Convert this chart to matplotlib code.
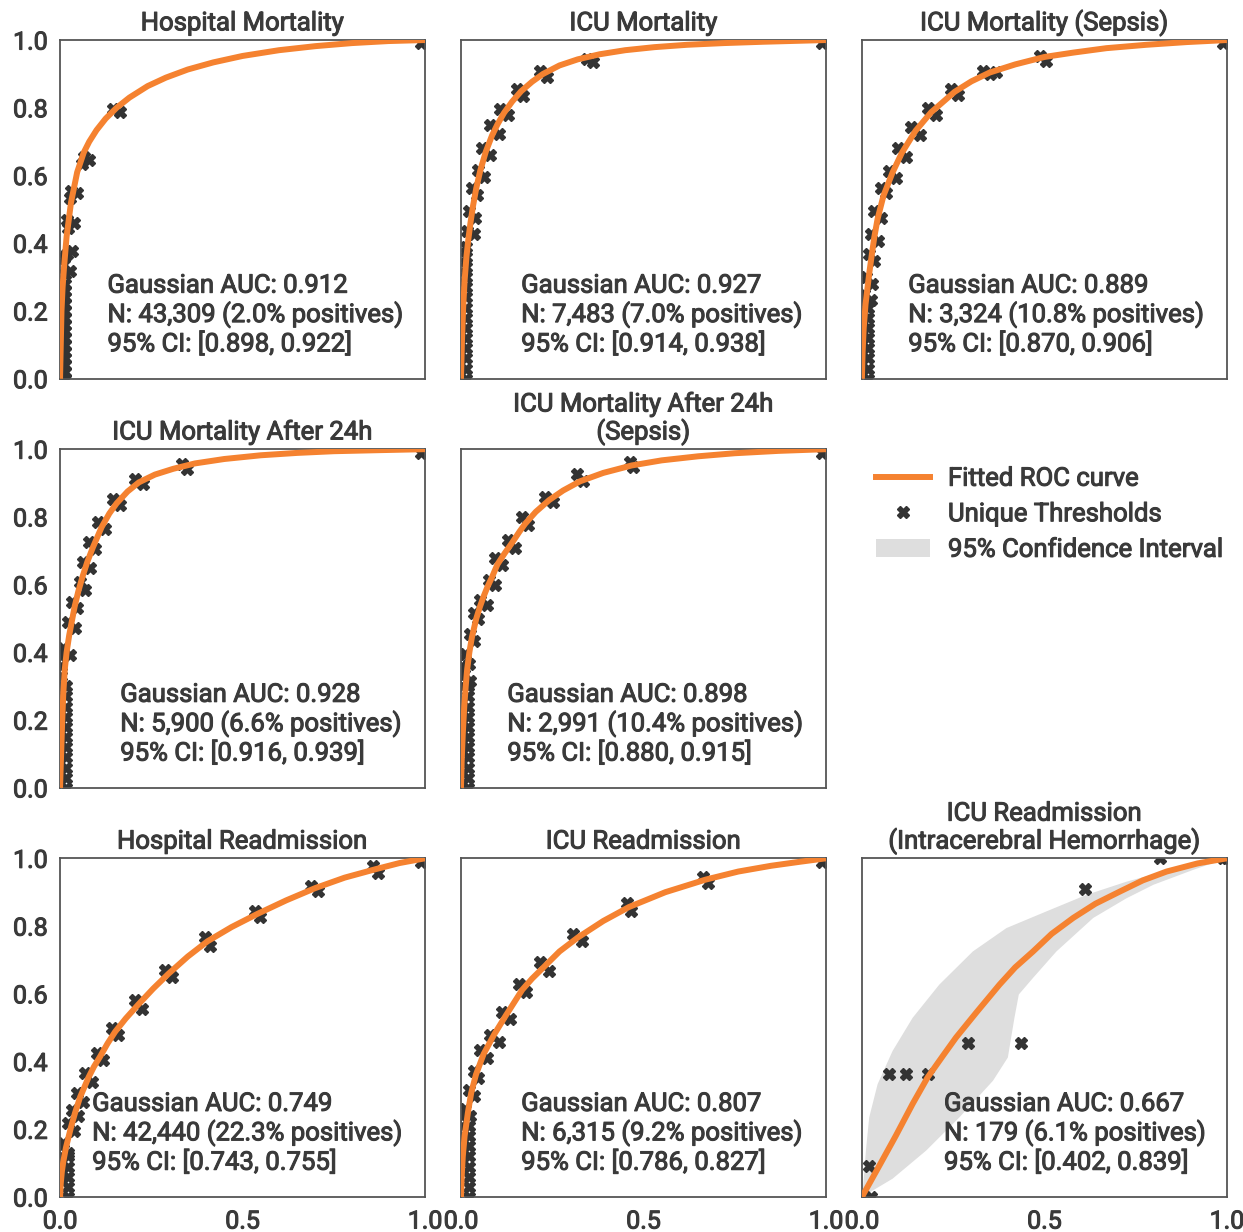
import matplotlib
matplotlib.use('Agg')
import matplotlib.pyplot as plt
import matplotlib.patheffects as pe
import numpy as np
from matplotlib.lines import Line2D
from matplotlib.patches import Patch

plt.rcParams['font.family'] = ['Roboto', 'DejaVu Sans']
plt.rcParams['text.color'] = '#3a3a3a'
plt.rcParams['xtick.color'] = '#3a3a3a'
plt.rcParams['ytick.color'] = '#3a3a3a'

orange = '#f58230'
dark = '#333333'
band_col = '#dedede'
fs = 18.5
# only Roboto Regular is installed; a thin stroke gives it the medium weight of the original
heavy = [pe.withStroke(linewidth=0.75, foreground='#3a3a3a')]

titles = ['Hospital Mortality', 'ICU Mortality', 'ICU Mortality (Sepsis)',
          'ICU Mortality After 24h', 'ICU Mortality After 24h\n(Sepsis)', None,
          'Hospital Readmission', 'ICU Readmission',
          'ICU Readmission\n(Intracerebral Hemorrhage)']
auc = [0.912, 0.927, 0.889, 0.928, 0.898, None, 0.749, 0.807, 0.667]
n_total = ['43,309', '7,483', '3,324', '5,900', '2,991', None, '42,440', '6,315', '179']
pct_pos = [2.0, 7.0, 10.8, 6.6, 10.4, None, 22.3, 9.2, 6.1]
ci_lo = [0.898, 0.914, 0.870, 0.916, 0.880, None, 0.743, 0.786, 0.402]
ci_hi = [0.922, 0.938, 0.906, 0.939, 0.915, None, 0.755, 0.827, 0.839]

# fitted curves
hm_fit_fpr = [0, .002, .004, .007, .011, .018, .03, .047, .065, .08, .1, .125, .155, .19, .24, .29, .35, .42, .5, .6, .7, .8, .9, 1]
hm_fit_tpr = [0, .1, .2, .27, .33, .42, .52, .61, .668, .7, .734, .768, .8, .83, .864, .889, .913, .934, .953, .97, .982, .991, .997, 1]
im_fit_fpr = [0, .003, .006, .01, .015, .02, .026, .033, .042, .053, .068, .085, .1, .118, .14, .165, .195, .225, .27, .32, .38, .45, .53, .62, .72, .83, 1]
im_fit_tpr = [0, .12, .21, .29, .36, .41, .46, .51, .563, .615, .67, .718, .751, .785, .818, .849, .877, .9, .925, .943, .958, .97, .979, .986, .991, .995, 1]
is_fit_fpr = [0, .002, .005, .01, .015, .02, .027, .034, .043, .059, .084, .11, .147, .19, .254, .3, .35, .42, .5, .58, .67, .78, .89, 1]
is_fit_tpr = [0, .08, .15, .22, .265, .31, .365, .418, .472, .54, .609, .668, .732, .787, .847, .878, .904, .928, .95, .963, .976, .986, .994, 1]
i24_fit_fpr = [0, .003, .006, .009, .013, .018, .025, .032, .04, .05, .062, .075, .09, .114, .135, .155, .185, .216, .26, .31, .37, .45, .55, .65, .75, .87, 1]
i24_fit_tpr = [0, .1, .2, .28, .35, .4, .45, .49, .535, .58, .625, .668, .71, .77, .81, .84, .875, .902, .925, .942, .958, .971, .982, .989, .994, .997, 1]
i24s_fit_fpr = [0, .002, .005, .009, .013, .017, .023, .03, .042, .052, .062, .074, .085, .1, .12, .139, .16, .176, .205, .242, .28, .326, .39, .468, .55, .65, .75, .87, 1]
i24s_fit_tpr = [0, .08, .16, .24, .3, .35, .4, .445, .5, .535, .565, .597, .622, .66, .693, .722, .756, .78, .815, .85, .878, .905, .93, .952, .967, .979, .988, .995, 1]
hr_fit_fpr = [0, .002, .005, .009, .016, .03, .041, .055, .078, .093, .11, .13, .151, .18, .215, .255, .297, .35, .404, .47, .541, .62, .699, .78, .865, .93, 1]
hr_fit_tpr = [0, .04, .075, .105, .145, .206, .248, .295, .353, .385, .415, .453, .488, .527, .569, .615, .659, .71, .755, .797, .836, .876, .912, .943, .968, .986, 1]
ir_fit_fpr = [0, .002, .005, .01, .019, .028, .041, .062, .091, .123, .168, .195, .228, .27, .32, .39, .46, .56, .67, .76, .85, .93, 1]
ir_fit_tpr = [0, .06, .12, .18, .249, .307, .361, .422, .48, .536, .612, .645, .68, .725, .766, .815, .856, .9, .937, .961, .978, .99, 1]
ich_fit_fpr = [0, .048, .093, .139, .18, .222, .258, .313, .377, .42, .469, .52, .579, .64, .707, .77, .835, .92, 1]
ich_fit_tpr = [0, .093, .181, .275, .353, .417, .471, .544, .627, .678, .725, .777, .824, .866, .902, .935, .961, .985, 1]

# confidence band (only wide enough to see in the last panel)
ich_ci_up_fpr = [0, .004, .011, .02, .043, .084, .139, .212, .304, .396, .505, .615, .725, .844, .954, 1]
ich_ci_up_tpr = [0, .039, .137, .235, .333, .431, .529, .627, .725, .794, .843, .892, .931, .966, .99, 1]
ich_ci_lo_fpr = [0, .084, .176, .267, .359, .4, .409, .418, .43, .469, .533, .634, .725, .799, .908, 1]
ich_ci_lo_tpr = [0, .054, .137, .235, .343, .412, .471, .529, .598, .647, .725, .824, .882, .922, .966, 1]

# unique thresholds
hm_thr_fpr = [.013, .013, .013, .013, .013, .013, .013, .013, .013, .013, .013, .013, .013, .013, .013,
              .014, .027, .012, .018, .032, .023, .037, .02, .027, .046, .03, .059, .078, .065, .146, .164, .99, 1]
hm_thr_tpr = [0, .02, .04, .06, .08, .10, .12, .14, .16, .18, .20, .22, .24, .26, .28,
              .308, .318, .355, .367, .376, .445, .459, .47, .533, .547, .555, .635, .645, .655, .797, .787, .99, 1]
im_thr_fpr = [.014, .014, .014, .014, .014, .014, .014, .014, .014, .014, .014, .014, .014, .014,
              .016, .035, .021, .039, .030, .044, .048, .062, .057, .080, .080, .103, .107, .130,
              .153, .171, .217, .235, .344, .362, .99, 1]
im_thr_tpr = [0, .03, .06, .09, .12, .15, .18, .21, .24, .27, .30, .33, .36, .39,
              .436, .426, .495, .475, .563, .543, .617, .597, .680, .660, .748, .724, .797, .778,
              .856, .836, .909, .890, .943, .934, .99, 1]
is_thr_fpr = [.016, .016, .016, .016, .016, .016, .016, .016, 0, 0, 0, 0,
              .006, .025, .011, .029, .020, .034, .025, .043, .034, .052, .052, .066, .075, .093,
              .098, .121, .135, .158, .180, .203, .245, .263, .331, .350, .368, .487, .505, .99, 1]
is_thr_tpr = [0, .03, .06, .09, .12, .15, .18, .21, .14, .17, .20, .23,
              .251, .231, .300, .280, .368, .349, .427, .407, .495, .476, .563, .549, .612, .593,
              .681, .656, .744, .720, .798, .778, .856, .837, .910, .900, .905, .954, .939, .99, 1]
i24_thr_fpr = [.016, .016, .016, .016, .016, .016, .016, .016, .016, .016, .016, .004, .004, .004, .004,
               .009, .027, .023, .041, .032, .046, .055, .068, .064, .082, .078, .096,
               .105, .123, .146, .164, .205, .228, .333, .347, .99, 1]
i24_thr_tpr = [0, .03, .06, .09, .12, .15, .18, .21, .24, .27, .30, .30, .33, .36, .39,
               .413, .393, .491, .472, .550, .530, .609, .584, .667, .648, .726, .706,
               .785, .765, .853, .834, .912, .897, .956, .941, .99, 1]
i24s_thr_fpr = [.02, .02, .02, .02, .02, .02, .02, .02, .02, .02, .02, .003, .003, .003,
                .007, .026, .012, .021, .026, .035, .035, .048, .053, .071, .076, .094,
                .094, .112, .130, .148, .167, .185, .230, .253, .317, .335, .463, .472, .99, 1]
i24s_thr_tpr = [0, .03, .06, .09, .12, .15, .18, .21, .24, .27, .30, .30, .33, .36,
                .337, .317, .395, .366, .454, .434, .517, .498, .556, .541, .615, .600,
                .678, .659, .732, .707, .800, .776, .859, .844, .927, .907, .961, .946, .99, 1]
hr_thr_fpr = [.021, .021, .021, .021, .021, .004, .004, .004, .004,
              .009, .023, .023, .037, .032, .050, .046, .064, .068, .087, .100, .119,
              .142, .160, .205, .224, .288, .306, .397, .411, .534, .548, .689, .708, .858, .872, .99, 1]
hr_thr_tpr = [0, .03, .06, .09, .12, .06, .09, .12, .15,
              .160, .130, .218, .194, .258, .238, .307, .282, .365, .341, .424, .405,
              .498, .478, .581, .556, .669, .649, .767, .742, .845, .826, .919, .904, .977, .958, .99, 1]
ir_thr_fpr = [.022, .022, .022, .022, .022, .022, .022, .022, .003, .003, .003, .003, .003,
              .012, .026, .021, .035, .035, .048, .053, .071, .080, .103, .112, .135,
              .158, .179, .217, .240, .308, .331, .454, .467, .663, .677, .99, 1]
ir_thr_tpr = [0, .03, .06, .09, .12, .15, .18, .21, .12, .15, .18, .21, .24,
              .259, .239, .317, .298, .371, .351, .434, .410, .478, .459, .546, .527,
              .629, .605, .693, .668, .776, .756, .868, .844, .946, .927, .99, 1]
ich_thr_fpr = [0, .025, .02, .075, .121, .18, .29, .437, .611, .817, .99, 1]
ich_thr_tpr = [0, 0, .091, .364, .364, .364, .455, .455, .909, 1, 1, 1]

fit_fpr = [hm_fit_fpr, im_fit_fpr, is_fit_fpr, i24_fit_fpr, i24s_fit_fpr, None, hr_fit_fpr, ir_fit_fpr, ich_fit_fpr]
fit_tpr = [hm_fit_tpr, im_fit_tpr, is_fit_tpr, i24_fit_tpr, i24s_fit_tpr, None, hr_fit_tpr, ir_fit_tpr, ich_fit_tpr]
thr_fpr = [hm_thr_fpr, im_thr_fpr, is_thr_fpr, i24_thr_fpr, i24s_thr_fpr, None, hr_thr_fpr, ir_thr_fpr, ich_thr_fpr]
thr_tpr = [hm_thr_tpr, im_thr_tpr, is_thr_tpr, i24_thr_tpr, i24s_thr_tpr, None, hr_thr_tpr, ir_thr_tpr, ich_thr_tpr]

# where the stats text sits in each panel (axes fraction)
text_x = [0.13, 0.165, 0.127, 0.165, 0.127, None, 0.088, 0.165, 0.225]

fig, axes = plt.subplots(3, 3, figsize=(12.43, 12.32), dpi=100)
fig.subplots_adjust(left=0.0483, right=0.987, top=0.9675, bottom=0.0284,
                    wspace=0.0986, hspace=0.208)

for i, ax in enumerate(axes.flat):
    if titles[i] is None:
        ax.axis('off')
        continue
    if i == 8:
        band_x = np.concatenate([ich_ci_up_fpr, ich_ci_lo_fpr[::-1]])
        band_y = np.concatenate([ich_ci_up_tpr, ich_ci_lo_tpr[::-1]])
        ax.fill(band_x, band_y, color=band_col, lw=0, zorder=1)
    ax.plot(thr_fpr[i], thr_tpr[i], ls='none', marker='X', ms=9,
            color=dark, mec=dark, zorder=2)
    ax.plot(fit_fpr[i], fit_tpr[i], color=orange, lw=4.3,
            solid_capstyle='butt', solid_joinstyle='round', zorder=3)
    ax.set_xlim(0, 1)
    ax.set_ylim(0, 1)
    ax.set_xticks([0, 0.5, 1.0])
    ax.set_yticks([0, 0.2, 0.4, 0.6, 0.8, 1.0])
    ax.tick_params(length=0, labelsize=18, pad=9)
    if i % 3 != 0:
        ax.set_yticklabels([])
    if i < 6:
        ax.set_xticklabels([])
    for lab in ax.get_xticklabels() + ax.get_yticklabels():
        lab.set_path_effects(heavy)
    for sp in ax.spines.values():
        sp.set_color('#555555')
        sp.set_linewidth(1.3)
    ax.set_title(titles[i], fontsize=fs, pad=7, linespacing=1.1, path_effects=heavy)
    txt = (f'Gaussian AUC: {auc[i]:.3f}\n'
           f'N: {n_total[i]} ({pct_pos[i]:.1f}% positives)\n'
           f'95% CI: [{ci_lo[i]:.3f}, {ci_hi[i]:.3f}]')
    ax.text(text_x[i], 0.188, txt, transform=ax.transAxes, ha='left', va='center',
            fontsize=fs, linespacing=1.17, zorder=4, path_effects=heavy)

handles = [Line2D([], [], color=orange, lw=4.3),
           Line2D([], [], ls='none', marker='X', ms=9, color=dark),
           Patch(facecolor=band_col, edgecolor='none')]
labels = ['Fitted ROC curve', 'Unique Thresholds', '95% Confidence Interval']
leg = axes[1][2].legend(handles, labels, loc='upper left', bbox_to_anchor=(0.0, 0.99),
                        frameon=False, fontsize=fs, handlelength=2.1,
                        handletextpad=0.7, labelspacing=0.45, borderaxespad=0.15)
for t in leg.get_texts():
    t.set_path_effects(heavy)

fig.savefig('out.png', dpi=100)
